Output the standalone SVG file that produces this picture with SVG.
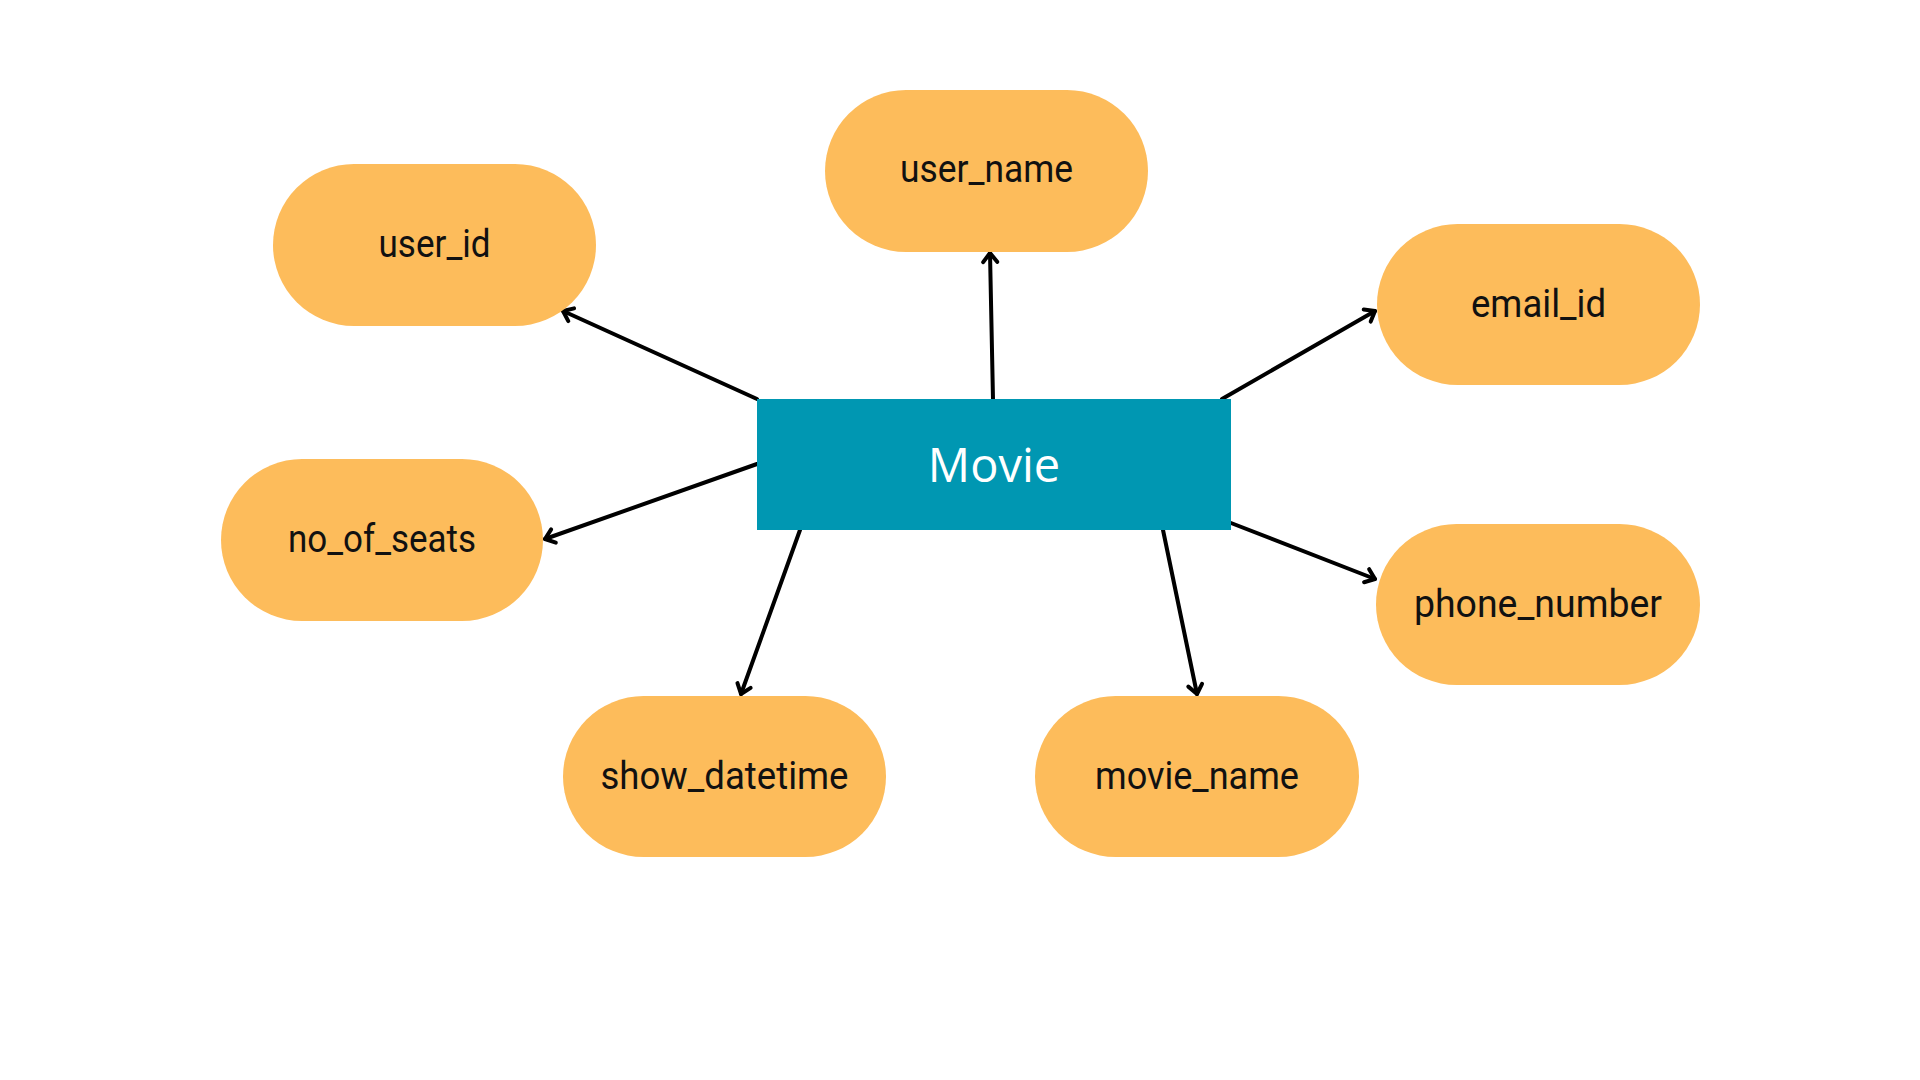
<svg xmlns="http://www.w3.org/2000/svg" width="1920" height="1080" viewBox="0 0 1920 1080">
  <style>
    .attr rect { fill: #FDBC5B; }
    .attr text { font-family: Roboto, "Open Sans", "Liberation Sans", sans-serif; font-size: 39px; fill: #111111; text-anchor: middle; }
    .entity rect { fill: #0097B2; }
    .entity text { font-family: "Open Sans", "Liberation Sans", sans-serif; font-size: 47px; fill: #ffffff; text-anchor: middle; }
    .link { stroke: #000000; stroke-width: 4; fill: none; stroke-linecap: round; marker-end: url(#arrow); }
  </style>
  <defs>
    <marker id="arrow" markerUnits="userSpaceOnUse" markerWidth="30" markerHeight="30" viewBox="-15 -15 30 30" refX="0" refY="0" orient="auto">
      <path d="M-9,-7 L0,0 L-9,7" fill="none" stroke="#000000" stroke-width="4" stroke-linecap="round" stroke-linejoin="round"/>
    </marker>
  </defs>
  <rect width="1920" height="1080" fill="#ffffff"/>

  <!-- connectors from the entity to its attributes -->
  <g id="connectors">
    <line class="link" x1="757" y1="399" x2="563" y2="311"/>
    <line class="link" x1="993" y1="399" x2="990" y2="253"/>
    <line class="link" x1="1222" y1="399" x2="1375" y2="311"/>
    <line class="link" x1="757" y1="464" x2="545" y2="539"/>
    <line class="link" x1="800" y1="530" x2="741" y2="694"/>
    <line class="link" x1="1163" y1="530" x2="1197" y2="694"/>
    <line class="link" x1="1231" y1="523" x2="1375" y2="579"/>
  </g>

  <!-- entity -->
  <g id="movie" class="entity">
    <rect x="757" y="399" width="474" height="131"/>
    <text x="994" y="482">Movie</text>
  </g>

  <!-- attributes -->
  <g id="user_id" class="attr">
    <rect x="273" y="164" width="323" height="162" rx="81"/>
    <text x="434.5" y="257" textLength="112" lengthAdjust="spacingAndGlyphs">user_id</text>
  </g>
  <g id="user_name" class="attr">
    <rect x="825" y="90" width="323" height="162" rx="81"/>
    <text x="986.5" y="182" textLength="173" lengthAdjust="spacingAndGlyphs">user_name</text>
  </g>
  <g id="email_id" class="attr">
    <rect x="1377" y="224" width="323" height="161" rx="80.5"/>
    <text x="1538.5" y="317" textLength="135" lengthAdjust="spacingAndGlyphs">email_id</text>
  </g>
  <g id="no_of_seats" class="attr">
    <rect x="221" y="459" width="322" height="162" rx="81"/>
    <text x="382" y="552" textLength="188" lengthAdjust="spacingAndGlyphs">no_of_seats</text>
  </g>
  <g id="show_datetime" class="attr">
    <rect x="563" y="696" width="323" height="161" rx="80.5"/>
    <text x="724.5" y="789" textLength="248" lengthAdjust="spacingAndGlyphs">show_datetime</text>
  </g>
  <g id="movie_name" class="attr">
    <rect x="1035" y="696" width="324" height="161" rx="80.5"/>
    <text x="1197" y="789" textLength="204" lengthAdjust="spacingAndGlyphs">movie_name</text>
  </g>
  <g id="phone_number" class="attr">
    <rect x="1376" y="524" width="324" height="161" rx="80.5"/>
    <text x="1538" y="617" textLength="248" lengthAdjust="spacingAndGlyphs">phone_number</text>
  </g>
</svg>
